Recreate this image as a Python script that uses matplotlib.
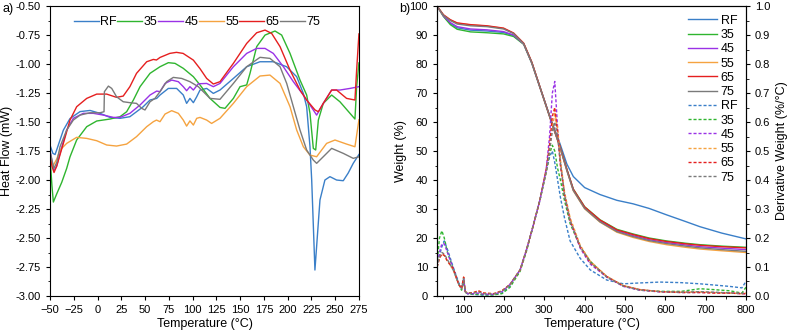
import numpy as np
import matplotlib.pyplot as plt
from matplotlib.ticker import MultipleLocator, FormatStrFormatter

plt.rcParams['font.family'] = ['Liberation Sans', 'DejaVu Sans']
plt.rcParams['axes.unicode_minus'] = True

labels = ["RF", "35", "45", "55", "65", "75"]
colors = ["#3a7fc8", "#2fb52f", "#9a32e6", "#f5a340", "#e51f1f", "#7a7a7a"]

# ---- a) DSC heat flow ----
dsc_rf_x = [-50, -47, -44.7, -43, -36, -29, -18.4, -7.9, 2.6, 13.1, 23.6, 34, 41, 48, 55.2, 62.2, 65.7,
            74.5, 83.2, 90.2, 93.7, 97.2, 100.8, 104.3, 107.8, 114.8, 121.8, 128.8, 142.9, 156.9, 170.9,
            184.9, 198.9, 209.5, 216.5, 220, 223.5, 225.3, 228.7, 234, 239.2, 244.5, 251.5, 258.5, 263.7,
            269, 275]
dsc_rf_y = [-1.70, -1.77, -1.78, -1.74, -1.57, -1.47, -1.41, -1.40, -1.425, -1.46, -1.468, -1.454, -1.411,
            -1.368, -1.31, -1.296, -1.267, -1.21, -1.21, -1.267, -1.339, -1.296, -1.333, -1.282, -1.224,
            -1.21, -1.253, -1.224, -1.124, -1.023, -0.98, -0.98, -1.023, -1.109, -1.253, -1.368, -1.713,
            -2.0, -2.776, -2.172, -2.0, -1.971, -2.0, -2.006, -1.94, -1.856, -1.78]

dsc_35_x = [-50, -48, -46.5, -43, -37.7, -32.5, -29, -22, -11.4, -0.9, 13.1, 23.6, 30.6, 37.7, 44.7, 55.2,
            65.7, 74.5, 81.5, 90.2, 100.8, 107.8, 118.3, 128.8, 134.1, 142.9, 149.9, 156.9, 160.4, 167.4,
            176.2, 186.7, 193.7, 202.5, 213, 220, 223.5, 227, 229.5, 232.3, 237.5, 246.3, 255, 265.6,
            270.8, 272.6, 275]
dsc_35_y = [-1.80, -2.05, -2.19, -2.12, -2.02, -1.90, -1.80, -1.655, -1.54, -1.491, -1.474, -1.454, -1.411,
            -1.31, -1.195, -1.08, -1.023, -0.988, -0.994, -1.037, -1.109, -1.18, -1.296, -1.374, -1.382,
            -1.296, -1.195, -1.18, -1.08, -0.85, -0.75, -0.715, -0.75, -0.908, -1.138, -1.267, -1.425,
            -1.727, -1.741, -1.483, -1.339, -1.267, -1.325, -1.425, -1.474, -1.195, -0.99]

dsc_45_x = [-50, -46, -43, -39.5, -32.5, -25.5, -15, -4.4, 6.1, 16.6, 23.6, 34, 44.7, 55.2, 62.2, 65.7,
            71, 78, 85, 90.2, 93.7, 97.2, 100.8, 106, 114.8, 121.8, 128.8, 142.9, 156.9, 167.4, 176.2,
            184.9, 195.5, 206, 216.5, 223.5, 230.5, 237.5, 246.3, 255, 265.6, 275]
dsc_45_y = [-1.75, -1.92, -1.88, -1.77, -1.569, -1.468, -1.425, -1.425, -1.44, -1.46, -1.46, -1.425,
            -1.353, -1.267, -1.233, -1.238, -1.167, -1.138, -1.152, -1.195, -1.23, -1.195, -1.224, -1.17,
            -1.167, -1.195, -1.167, -1.023, -0.908, -0.865, -0.865, -0.908, -1.023, -1.152, -1.267,
            -1.353, -1.44, -1.339, -1.224, -1.224, -1.21, -1.195]

dsc_55_x = [-50, -47, -43, -39.5, -32.5, -22, -11.4, -0.9, 9.6, 20, 30.6, 41, 51.7, 58.7, 62, 65.7, 71,
            78, 85, 90.2, 93.7, 97.2, 100.8, 104.3, 107.8, 114.8, 120, 128.8, 142.9, 156.9, 170.9, 181.4,
            192, 202.5, 209.5, 216.5, 223.5, 230.5, 241, 249.8, 262, 270.8, 275]
dsc_55_y = [-1.80, -1.88, -1.82, -1.742, -1.684, -1.632, -1.641, -1.661, -1.698, -1.707, -1.69, -1.626,
            -1.54, -1.497, -1.483, -1.497, -1.431, -1.402, -1.425, -1.483, -1.535, -1.49, -1.526, -1.468,
            -1.46, -1.483, -1.512, -1.468, -1.339, -1.195, -1.103, -1.095, -1.167, -1.368, -1.569,
            -1.713, -1.785, -1.799, -1.684, -1.655, -1.69, -1.713, -1.48]

dsc_65_x = [-50, -48, -45.8, -43, -36, -29, -22, -11.4, -0.9, 9.6, 20, 27, 34, 41, 51.7, 58.7, 62, 65.7,
            76, 83, 90, 100.8, 107.8, 114.8, 121.8, 128.8, 142.9, 156.9, 167.4, 176.2, 183.2, 192, 202.5,
            213, 220, 228.8, 232.3, 237.5, 246.3, 251.5, 262, 270.8, 272.6, 275]
dsc_65_y = [-1.78, -1.88, -1.935, -1.88, -1.684, -1.483, -1.368, -1.296, -1.259, -1.259, -1.287, -1.276,
            -1.195, -1.08, -0.98, -0.96, -0.965, -0.943, -0.908, -0.899, -0.908, -0.966, -1.04, -1.124,
            -1.172, -1.152, -0.994, -0.822, -0.73, -0.707, -0.736, -0.85, -1.052, -1.224, -1.31, -1.396,
            -1.411, -1.339, -1.224, -1.224, -1.296, -1.31, -1.05, -0.74]

dsc_75_x = [-50, -46, -43, -39.5, -32.5, -25.5, -18.4, -7.9, 2.6, 6.8, 7.2, 11.4, 14.9, 20, 27, 34, 41,
            46.4, 49.9, 55.2, 60.4, 65.7, 72.7, 79.7, 88.5, 97.2, 106, 118.3, 128.8, 142.9, 156.9, 170.9,
            181.4, 192, 199, 206, 213, 220, 227, 230.5, 237.5, 246.3, 258.5, 269, 275]
dsc_75_y = [-1.75, -1.90, -1.85, -1.713, -1.569, -1.483, -1.44, -1.42, -1.42, -1.411, -1.238, -1.19,
            -1.21, -1.282, -1.325, -1.333, -1.339, -1.382, -1.396, -1.325, -1.296, -1.238, -1.152,
            -1.115, -1.124, -1.152, -1.195, -1.296, -1.304, -1.167, -1.023, -0.942, -0.951, -1.023,
            -1.167, -1.368, -1.569, -1.741, -1.828, -1.856, -1.799, -1.727, -1.77, -1.813, -1.80]

dsc_x = [dsc_rf_x, dsc_35_x, dsc_45_x, dsc_55_x, dsc_65_x, dsc_75_x]
dsc_y = [dsc_rf_y, dsc_35_y, dsc_45_y, dsc_55_y, dsc_65_y, dsc_75_y]

# ---- b) TGA weight (%) ----
tga_x = [34, 50, 67, 84, 117, 158, 199, 224, 249, 269, 294, 318, 339, 356, 372, 400, 438, 480, 520,
         560, 603, 650, 686, 740, 800]
tga_rf = [100, 96.6, 94.0, 92.5, 91.7, 91.4, 90.9, 89.8, 86.9, 80.4, 70.0, 60.2, 52.5, 45.5, 41.2,
          37.4, 35.0, 33.0, 31.8, 30.2, 28.0, 25.7, 23.9, 21.7, 19.7]
tga_35 = [100, 96.4, 93.6, 92.0, 91.1, 90.8, 90.4, 89.5, 86.8, 80.3, 70.0, 60.0, 51.6, 43.7, 36.9,
          30.8, 26.3, 23.0, 21.4, 20.0, 19.0, 18.2, 17.7, 17.2, 16.8]
tga_45 = [100, 96.6, 94.3, 92.9, 92.1, 91.8, 91.2, 90.0, 86.9, 80.4, 70.0, 60.0, 51.4, 43.4, 36.5,
          30.4, 25.9, 22.5, 20.8, 19.4, 18.4, 17.6, 17.0, 16.5, 16.0]
tga_55 = [100, 96.9, 95.2, 94.1, 93.5, 93.1, 92.3, 90.6, 87.1, 80.6, 70.0, 59.8, 51.2, 43.2, 36.3,
          30.1, 25.5, 22.0, 20.2, 18.8, 17.7, 16.8, 16.2, 15.6, 15.0]
tga_65 = [100, 97.0, 95.3, 94.2, 93.6, 93.2, 92.4, 90.7, 87.2, 80.7, 70.1, 60.0, 51.6, 43.7, 36.8,
          30.7, 26.2, 22.8, 21.2, 19.8, 18.8, 18.0, 17.5, 17.0, 16.6]
tga_75 = [100, 96.8, 95.0, 93.8, 93.2, 92.9, 92.1, 90.5, 87.0, 80.5, 70.0, 59.9, 51.3, 43.3, 36.4,
          30.2, 25.6, 22.2, 20.5, 19.1, 18.1, 17.2, 16.6, 16.0, 15.4]
tga_y = [tga_rf, tga_35, tga_45, tga_55, tga_65, tga_75]

# ---- b) DTG derivative weight (%/°C) ----
dtg_x = [34, 40, 46, 52, 60, 74, 88, 95, 100, 104, 110, 125, 136, 150, 175, 195, 215, 240, 256, 272,
         289, 305, 313, 320, 326, 333, 340, 350, 364, 389, 414, 455, 496, 537, 587, 640, 686, 720,
         760, 790, 800]
dtg_rf = [0.10, 0.14, 0.17, 0.19, 0.16, 0.10, 0.045, 0.03, 0.06, 0.015, 0.008, 0.005, 0.004, 0.003,
          0.004, 0.01, 0.035, 0.09, 0.16, 0.24, 0.33, 0.43, 0.48, 0.50, 0.46, 0.40, 0.34, 0.27, 0.19,
          0.13, 0.09, 0.055, 0.042, 0.045, 0.048, 0.046, 0.042, 0.038, 0.033, 0.028, 0.05]
dtg_35 = [0.11, 0.20, 0.225, 0.20, 0.15, 0.095, 0.04, 0.02, 0.055, 0.012, 0.008, 0.006, 0.006, 0.004,
          0.004, 0.008, 0.03, 0.085, 0.155, 0.24, 0.33, 0.43, 0.49, 0.52, 0.50, 0.44, 0.40, 0.33, 0.25,
          0.17, 0.12, 0.065, 0.035, 0.02, 0.016, 0.016, 0.025, 0.022, 0.018, 0.01, 0.03]
dtg_45 = [0.10, 0.15, 0.18, 0.18, 0.15, 0.095, 0.04, 0.025, 0.06, 0.012, 0.008, 0.008, 0.01, 0.006,
          0.006, 0.015, 0.04, 0.09, 0.16, 0.24, 0.33, 0.44, 0.55, 0.70, 0.74, 0.58, 0.46, 0.35, 0.26,
          0.165, 0.11, 0.065, 0.033, 0.02, 0.014, 0.012, 0.012, 0.012, 0.01, 0.008, 0.008]
dtg_55 = [0.10, 0.13, 0.145, 0.14, 0.12, 0.09, 0.04, 0.025, 0.065, 0.015, 0.01, 0.012, 0.018, 0.01,
          0.008, 0.018, 0.04, 0.09, 0.16, 0.24, 0.33, 0.43, 0.50, 0.58, 0.63, 0.58, 0.47, 0.36, 0.27,
          0.175, 0.12, 0.068, 0.036, 0.022, 0.015, 0.013, 0.014, 0.012, 0.01, 0.008, 0.01]
dtg_65 = [0.10, 0.13, 0.145, 0.14, 0.12, 0.095, 0.04, 0.025, 0.065, 0.015, 0.01, 0.012, 0.018, 0.01,
          0.008, 0.018, 0.04, 0.09, 0.16, 0.24, 0.33, 0.44, 0.52, 0.62, 0.65, 0.56, 0.45, 0.35, 0.26,
          0.17, 0.115, 0.067, 0.035, 0.022, 0.015, 0.012, 0.012, 0.01, 0.01, 0.008, 0.008]
dtg_75 = [0.10, 0.135, 0.15, 0.145, 0.125, 0.09, 0.04, 0.025, 0.06, 0.014, 0.009, 0.01, 0.014, 0.008,
          0.007, 0.016, 0.04, 0.09, 0.16, 0.24, 0.33, 0.43, 0.50, 0.57, 0.60, 0.55, 0.46, 0.35, 0.26,
          0.17, 0.115, 0.066, 0.034, 0.021, 0.015, 0.013, 0.015, 0.013, 0.011, 0.009, 0.012]
dtg_y = [dtg_rf, dtg_35, dtg_45, dtg_55, dtg_65, dtg_75]

fig = plt.figure(figsize=(7.88, 3.34), dpi=100)
ax1 = fig.add_axes([0.0635, 0.1138, 0.392, 0.868])
ax2 = fig.add_axes([0.5546, 0.1138, 0.392, 0.868])
ax3 = ax2.twinx()

tick_fs = 8
lab_fs = 9

# ---- panel a ----
for x, y, c, lab in zip(dsc_x, dsc_y, colors, labels):
    ax1.plot(x, y, color=c, lw=1.0, label=lab)
ax1.set_xlim(-50, 275)
ax1.set_ylim(-3.0, -0.5)
ax1.xaxis.set_major_locator(MultipleLocator(25))
ax1.yaxis.set_major_locator(MultipleLocator(0.25))
ax1.yaxis.set_minor_locator(MultipleLocator(0.125))
ax1.yaxis.set_major_formatter(FormatStrFormatter('%.2f'))
ax1.tick_params(direction='out', labelsize=tick_fs, length=3, width=0.8)
ax1.tick_params(which='minor', direction='out', length=1.8, width=0.6)
ax1.set_xlabel("Temperature (°C)", fontsize=lab_fs, labelpad=2)
ax1.set_ylabel("Heat Flow (mW)", fontsize=lab_fs, labelpad=2)
ax1.legend(ncol=6, loc='upper left', bbox_to_anchor=(0.045, 1.0), frameon=False,
           fontsize=9, handlelength=2.0, handletextpad=0.1, columnspacing=0.05, borderpad=0.3)

# ---- panel b ----
for y, c, lab in zip(tga_y, colors, labels):
    ax2.plot(tga_x, y, color=c, lw=1.0, label=lab)
for y, c, lab in zip(dtg_y, colors, labels):
    ax3.plot(dtg_x, y, color=c, lw=1.0, ls=(0, (2.2, 1.4)), label=lab)
ax2.set_xlim(34, 800)
ax2.set_ylim(0, 100)
ax3.set_ylim(0, 1.0)
ax2.xaxis.set_major_locator(MultipleLocator(100))
ax2.xaxis.set_minor_locator(MultipleLocator(50))
ax2.yaxis.set_major_locator(MultipleLocator(10))
ax2.yaxis.set_minor_locator(MultipleLocator(5))
ax3.yaxis.set_major_locator(MultipleLocator(0.1))
ax3.yaxis.set_minor_locator(MultipleLocator(0.05))
ax3.yaxis.set_major_formatter(FormatStrFormatter('%.1f'))
for a in (ax2, ax3):
    a.tick_params(direction='out', labelsize=tick_fs, length=3, width=0.8)
    a.tick_params(which='minor', direction='out', length=1.8, width=0.6)
ax2.set_xlabel("Temperature (°C)", fontsize=lab_fs, labelpad=2)
ax2.set_ylabel("Weight (%)", fontsize=lab_fs, labelpad=2)
ax3.set_ylabel("Derivative Weight (%/°C)", fontsize=lab_fs, labelpad=4)

h2, l2 = ax2.get_legend_handles_labels()
h3, l3 = ax3.get_legend_handles_labels()
ax3.legend(h2 + h3, l2 + l3, loc='upper right', frameon=False, fontsize=9,
           handlelength=2.3, handletextpad=0.3, labelspacing=0.18, borderpad=0.2)

fig.text(0.003, 0.965, "a)", fontsize=9)
fig.text(0.507, 0.965, "b)", fontsize=9)

fig.savefig("out.png", dpi=100)
